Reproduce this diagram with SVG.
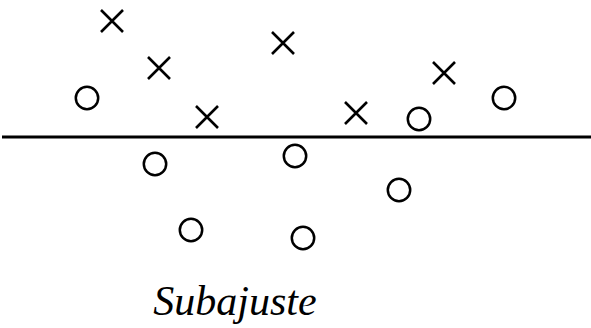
<svg xmlns="http://www.w3.org/2000/svg" width="591" height="328" viewBox="0 0 591 328">
  <style>
    .o { fill: none; stroke: #000; stroke-width: 2.5; }
    .x { fill: none; stroke: #000; stroke-width: 2.6; }
    .boundary { stroke: #000; stroke-width: 3; }
    .caption { font-family: "Liberation Serif", "Times New Roman", serif; font-style: italic; font-size: 42px; fill: #000; }
  </style>
  <defs>
    <path id="cross" class="x" d="M-11,-11 L11,11 M-11,11 L11,-11"/>
    <circle id="ring" class="o" r="11.2"/>
  </defs>

  <!-- decision boundary -->
  <g id="connectors">
    <line class="boundary" x1="2" y1="137" x2="591" y2="137"/>
  </g>

  <!-- class X samples -->
  <g id="x1"><use href="#cross" x="112" y="21"/></g>
  <g id="x2"><use href="#cross" x="159" y="68"/></g>
  <g id="x3"><use href="#cross" x="207" y="117"/></g>
  <g id="x4"><use href="#cross" x="283" y="43"/></g>
  <g id="x5"><use href="#cross" x="356" y="113"/></g>
  <g id="x6"><use href="#cross" x="444" y="73"/></g>

  <!-- class O samples -->
  <g id="o1"><use href="#ring" x="87" y="98"/></g>
  <g id="o2"><use href="#ring" x="419" y="119"/></g>
  <g id="o3"><use href="#ring" x="504" y="98"/></g>
  <g id="o4"><use href="#ring" x="155" y="164"/></g>
  <g id="o5"><use href="#ring" x="295" y="156"/></g>
  <g id="o6"><use href="#ring" x="399" y="190"/></g>
  <g id="o7"><use href="#ring" x="191" y="230"/></g>
  <g id="o8"><use href="#ring" x="303" y="238"/></g>

  <g id="caption">
    <text class="caption" x="235" y="315" text-anchor="middle">Subajuste</text>
  </g>
</svg>
